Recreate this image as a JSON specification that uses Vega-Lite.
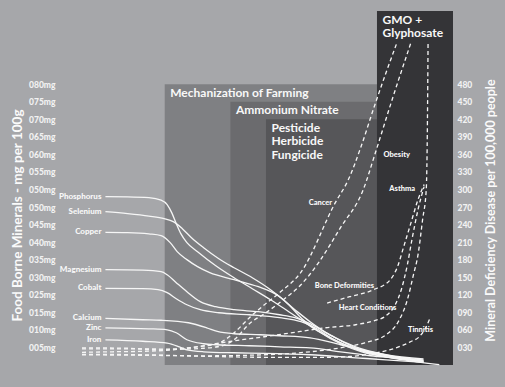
{
  "$schema": "https://vega.github.io/schema/vega-lite/v6.json",
  "width": 371,
  "height": 354,
  "autosize": {"type": "none"},
  "padding": {"left": 82, "top": 11, "right": 52, "bottom": 22},
  "background": "#a6a7aa",
  "config": {
    "view": {"stroke": null},
    "font": "Lato",
    "axis": {
      "domain": false, "ticks": false, "grid": false,
      "labelFont": "Lato", "labelFontWeight": 900, "labelFontSize": 8.5, "labelColor": "#f2f2f2",
      "titleFont": "Lato", "titleFontWeight": "bold", "titleColor": "#fafafa"
    }
  },
  "datasets": {
    "bands": [
      {"band": "Mechanization of Farming", "start": 1927.2, "end": 2022, "top": 480},
      {"band": "Ammonium Nitrate", "start": 1948.8, "end": 2022, "top": 450},
      {"band": "Pesticide\nHerbicide\nFungicide", "start": 1960.5, "end": 2022, "top": 420},
      {"band": "GMO +\nGlyphosate", "start": 1997, "end": 2022, "top": 605}
    ],
    "minerals": [
      {"m": "Phosphorus", "year": 1907.7, "v": 287.8}, {"m": "Phosphorus", "year": 1915, "v": 287.5}, {"m": "Phosphorus", "year": 1922, "v": 286.1}, {"m": "Phosphorus", "year": 1926, "v": 281.8}, {"m": "Phosphorus", "year": 1928, "v": 274.1}, {"m": "Phosphorus", "year": 1929.5, "v": 260.4}, {"m": "Phosphorus", "year": 1931, "v": 241.6}, {"m": "Phosphorus", "year": 1932.5, "v": 224.5}, {"m": "Phosphorus", "year": 1934.5, "v": 209.1}, {"m": "Phosphorus", "year": 1938, "v": 193.7}, {"m": "Phosphorus", "year": 1944, "v": 169.7}, {"m": "Phosphorus", "year": 1950, "v": 149.2}, {"m": "Phosphorus", "year": 1956, "v": 130.4}, {"m": "Phosphorus", "year": 1962, "v": 111.6}, {"m": "Phosphorus", "year": 1968, "v": 91.1}, {"m": "Phosphorus", "year": 1972, "v": 77.3}, {"m": "Phosphorus", "year": 1978, "v": 56.8}, {"m": "Phosphorus", "year": 1985, "v": 38.0}, {"m": "Phosphorus", "year": 1992, "v": 24.3}, {"m": "Phosphorus", "year": 2000, "v": 14.0}, {"m": "Phosphorus", "year": 2010, "v": 5.5}, {"m": "Phosphorus", "year": 2017.5, "v": 0.5},
      {"m": "Selenium", "year": 1907.7, "v": 262.1}, {"m": "Selenium", "year": 1915, "v": 258.7}, {"m": "Selenium", "year": 1922, "v": 254.4}, {"m": "Selenium", "year": 1927, "v": 250.1}, {"m": "Selenium", "year": 1930, "v": 245.0}, {"m": "Selenium", "year": 1933, "v": 233.0}, {"m": "Selenium", "year": 1936, "v": 217.6}, {"m": "Selenium", "year": 1940, "v": 200.5}, {"m": "Selenium", "year": 1945, "v": 181.7}, {"m": "Selenium", "year": 1950, "v": 166.3}, {"m": "Selenium", "year": 1956, "v": 149.2}, {"m": "Selenium", "year": 1962, "v": 128.7}, {"m": "Selenium", "year": 1968, "v": 103.0}, {"m": "Selenium", "year": 1972, "v": 80.8}, {"m": "Selenium", "year": 1978, "v": 56.8}, {"m": "Selenium", "year": 1985, "v": 36.3}, {"m": "Selenium", "year": 1992, "v": 22.6}, {"m": "Selenium", "year": 2000, "v": 14.0}, {"m": "Selenium", "year": 2012.3, "v": 7.2},
      {"m": "Copper", "year": 1907.7, "v": 226.7}, {"m": "Copper", "year": 1915, "v": 226.2}, {"m": "Copper", "year": 1922, "v": 224.0}, {"m": "Copper", "year": 1926, "v": 221.1}, {"m": "Copper", "year": 1929, "v": 209.1}, {"m": "Copper", "year": 1931.3, "v": 193.7}, {"m": "Copper", "year": 1934.5, "v": 180.1}, {"m": "Copper", "year": 1938, "v": 168.1}, {"m": "Copper", "year": 1942, "v": 157.8}, {"m": "Copper", "year": 1950, "v": 145.9}, {"m": "Copper", "year": 1958, "v": 133.8}, {"m": "Copper", "year": 1964, "v": 120.2}, {"m": "Copper", "year": 1970, "v": 94.5}, {"m": "Copper", "year": 1975, "v": 74.0}, {"m": "Copper", "year": 1982, "v": 50.1}, {"m": "Copper", "year": 1990, "v": 31.1}, {"m": "Copper", "year": 2000, "v": 17.5}, {"m": "Copper", "year": 2012.3, "v": 10.6},
      {"m": "Magnesium", "year": 1907.7, "v": 162.9}, {"m": "Magnesium", "year": 1920, "v": 162.0}, {"m": "Magnesium", "year": 1926, "v": 159.5}, {"m": "Magnesium", "year": 1928, "v": 154.3}, {"m": "Magnesium", "year": 1931, "v": 140.7}, {"m": "Magnesium", "year": 1934.5, "v": 125.3}, {"m": "Magnesium", "year": 1938.9, "v": 108.2}, {"m": "Magnesium", "year": 1944, "v": 99.6}, {"m": "Magnesium", "year": 1950, "v": 94.5}, {"m": "Magnesium", "year": 1958, "v": 91.1}, {"m": "Magnesium", "year": 1965, "v": 85.9}, {"m": "Magnesium", "year": 1970, "v": 80.8}, {"m": "Magnesium", "year": 1975, "v": 70.6}, {"m": "Magnesium", "year": 1982, "v": 50.1}, {"m": "Magnesium", "year": 1990, "v": 29.5}, {"m": "Magnesium", "year": 2000, "v": 15.9}, {"m": "Magnesium", "year": 2012.3, "v": 8.9},
      {"m": "Cobalt", "year": 1907.7, "v": 130.9}, {"m": "Cobalt", "year": 1920, "v": 130.4}, {"m": "Cobalt", "year": 1925, "v": 128.7}, {"m": "Cobalt", "year": 1928, "v": 123.6}, {"m": "Cobalt", "year": 1931, "v": 113.3}, {"m": "Cobalt", "year": 1934.5, "v": 103.0}, {"m": "Cobalt", "year": 1938.9, "v": 94.5}, {"m": "Cobalt", "year": 1945, "v": 89.3}, {"m": "Cobalt", "year": 1955, "v": 85.9}, {"m": "Cobalt", "year": 1965, "v": 80.8}, {"m": "Cobalt", "year": 1972, "v": 74.0}, {"m": "Cobalt", "year": 1976, "v": 65.4}, {"m": "Cobalt", "year": 1983, "v": 43.1}, {"m": "Cobalt", "year": 1990, "v": 27.7}, {"m": "Cobalt", "year": 2000, "v": 15.9}, {"m": "Cobalt", "year": 2012.3, "v": 7.2},
      {"m": "Calcium", "year": 1907.7, "v": 79.6}, {"m": "Calcium", "year": 1920, "v": 77.3}, {"m": "Calcium", "year": 1926, "v": 76.5}, {"m": "Calcium", "year": 1935, "v": 72.2}, {"m": "Calcium", "year": 1941, "v": 63.6}, {"m": "Calcium", "year": 1944.5, "v": 57.3}, {"m": "Calcium", "year": 1950, "v": 53.4}, {"m": "Calcium", "year": 1958.7, "v": 51.7}, {"m": "Calcium", "year": 1965, "v": 50.0}, {"m": "Calcium", "year": 1975, "v": 46.5}, {"m": "Calcium", "year": 1985, "v": 34.6}, {"m": "Calcium", "year": 1995, "v": 22.6}, {"m": "Calcium", "year": 2005, "v": 12.3}, {"m": "Calcium", "year": 2012.3, "v": 5.5},
      {"m": "Zinc", "year": 1907.7, "v": 63.6}, {"m": "Zinc", "year": 1922, "v": 61.9}, {"m": "Zinc", "year": 1928, "v": 60.2}, {"m": "Zinc", "year": 1931, "v": 55.1}, {"m": "Zinc", "year": 1934.5, "v": 43.1}, {"m": "Zinc", "year": 1940, "v": 36.3}, {"m": "Zinc", "year": 1944.5, "v": 34.6}, {"m": "Zinc", "year": 1955, "v": 32.9}, {"m": "Zinc", "year": 1965, "v": 31.1}, {"m": "Zinc", "year": 1975, "v": 29.4}, {"m": "Zinc", "year": 1985, "v": 22.6}, {"m": "Zinc", "year": 1995, "v": 15.8}, {"m": "Zinc", "year": 2005, "v": 10.6}, {"m": "Zinc", "year": 2012.3, "v": 5.5},
      {"m": "Iron", "year": 1907.7, "v": 43.1}, {"m": "Iron", "year": 1920, "v": 40.6}, {"m": "Iron", "year": 1928, "v": 37.5}, {"m": "Iron", "year": 1932, "v": 31.1}, {"m": "Iron", "year": 1934.5, "v": 26.0}, {"m": "Iron", "year": 1940, "v": 22.6}, {"m": "Iron", "year": 1950, "v": 20.9}, {"m": "Iron", "year": 1960, "v": 20.0}, {"m": "Iron", "year": 1975, "v": 17.5}, {"m": "Iron", "year": 1990, "v": 12.3}, {"m": "Iron", "year": 2000, "v": 8.9}, {"m": "Iron", "year": 2012.3, "v": 4.6}
    ],
    "diseases": [
      {"d": "Cancer", "year": 1900, "v": 21.7}, {"d": "Cancer", "year": 1910, "v": 22.6}, {"d": "Cancer", "year": 1920, "v": 23.4}, {"d": "Cancer", "year": 1930, "v": 26.0}, {"d": "Cancer", "year": 1938, "v": 31.1}, {"d": "Cancer", "year": 1944.5, "v": 36.3}, {"d": "Cancer", "year": 1950, "v": 55.1}, {"d": "Cancer", "year": 1955.4, "v": 82.5}, {"d": "Cancer", "year": 1960, "v": 103.0}, {"d": "Cancer", "year": 1965.2, "v": 124.6}, {"d": "Cancer", "year": 1971.8, "v": 157.1}, {"d": "Cancer", "year": 1983.3, "v": 277.5}, {"d": "Cancer", "year": 1987.6, "v": 316.9}, {"d": "Cancer", "year": 1992, "v": 376.8}, {"d": "Cancer", "year": 1996, "v": 440}, {"d": "Cancer", "year": 2000, "v": 500}, {"d": "Cancer", "year": 2003.6, "v": 551.3},
      {"d": "Obesity", "year": 1900, "v": 27.7}, {"d": "Obesity", "year": 1910, "v": 27.7}, {"d": "Obesity", "year": 1920, "v": 27.7}, {"d": "Obesity", "year": 1930, "v": 26.9}, {"d": "Obesity", "year": 1940, "v": 28.6}, {"d": "Obesity", "year": 1946, "v": 32.9}, {"d": "Obesity", "year": 1950, "v": 43.1}, {"d": "Obesity", "year": 1955.4, "v": 72.2}, {"d": "Obesity", "year": 1960, "v": 87.6}, {"d": "Obesity", "year": 1966.2, "v": 111.6}, {"d": "Obesity", "year": 1972, "v": 137.2}, {"d": "Obesity", "year": 1978, "v": 176.5}, {"d": "Obesity", "year": 1985, "v": 234.8}, {"d": "Obesity", "year": 1992.5, "v": 299.8}, {"d": "Obesity", "year": 1996.5, "v": 363.1}, {"d": "Obesity", "year": 2002, "v": 453.8}, {"d": "Obesity", "year": 2008.2, "v": 551.3},
      {"d": "Heart Conditions", "year": 1900, "v": 29.4}, {"d": "Heart Conditions", "year": 1915, "v": 28.6}, {"d": "Heart Conditions", "year": 1925, "v": 26.0}, {"d": "Heart Conditions", "year": 1935, "v": 29.4}, {"d": "Heart Conditions", "year": 1950, "v": 41.4}, {"d": "Heart Conditions", "year": 1960, "v": 48.3}, {"d": "Heart Conditions", "year": 1971.8, "v": 57.3}, {"d": "Heart Conditions", "year": 1980, "v": 63.6}, {"d": "Heart Conditions", "year": 1990, "v": 68.8}, {"d": "Heart Conditions", "year": 1996, "v": 75.6}, {"d": "Heart Conditions", "year": 2000, "v": 84.2}, {"d": "Heart Conditions", "year": 2003, "v": 103.0}, {"d": "Heart Conditions", "year": 2005, "v": 128.7}, {"d": "Heart Conditions", "year": 2007, "v": 171.5}, {"d": "Heart Conditions", "year": 2008.5, "v": 214.3}, {"d": "Heart Conditions", "year": 2010.5, "v": 265.6}, {"d": "Heart Conditions", "year": 2012.5, "v": 304.9},
      {"d": "Bone Deformities", "year": 1980.6, "v": 105.9}, {"d": "Bone Deformities", "year": 1988, "v": 116.7}, {"d": "Bone Deformities", "year": 1995.9, "v": 128.7}, {"d": "Bone Deformities", "year": 2001.4, "v": 145.8}, {"d": "Bone Deformities", "year": 2004, "v": 171.5}, {"d": "Bone Deformities", "year": 2005.5, "v": 197.1}, {"d": "Bone Deformities", "year": 2008, "v": 239.9}, {"d": "Bone Deformities", "year": 2010.5, "v": 282.7}, {"d": "Bone Deformities", "year": 2012.5, "v": 308.3},
      {"d": "Asthma", "year": 1900, "v": 17.5}, {"d": "Asthma", "year": 1920, "v": 16.6}, {"d": "Asthma", "year": 1940, "v": 15.7}, {"d": "Asthma", "year": 1960, "v": 17.5}, {"d": "Asthma", "year": 1975, "v": 22.6}, {"d": "Asthma", "year": 1985, "v": 29.4}, {"d": "Asthma", "year": 1993, "v": 38.0}, {"d": "Asthma", "year": 2000, "v": 51.7}, {"d": "Asthma", "year": 2004, "v": 73.9}, {"d": "Asthma", "year": 2007, "v": 111.6}, {"d": "Asthma", "year": 2009, "v": 154.3}, {"d": "Asthma", "year": 2010.5, "v": 188.5}, {"d": "Asthma", "year": 2012, "v": 248.4}, {"d": "Asthma", "year": 2013.2, "v": 299.7}, {"d": "Asthma", "year": 2013.6, "v": 419.5}, {"d": "Asthma", "year": 2013.8, "v": 551.3},
      {"d": "Tinnitis", "year": 1900, "v": 18.3}, {"d": "Tinnitis", "year": 1920, "v": 17.5}, {"d": "Tinnitis", "year": 1940, "v": 14.9}, {"d": "Tinnitis", "year": 1960, "v": 13.2}, {"d": "Tinnitis", "year": 1980, "v": 13.2}, {"d": "Tinnitis", "year": 1988.3, "v": 14.5}, {"d": "Tinnitis", "year": 1995, "v": 19.2}, {"d": "Tinnitis", "year": 2003, "v": 28.9}, {"d": "Tinnitis", "year": 2008, "v": 39.7}, {"d": "Tinnitis", "year": 2011, "v": 48.8}, {"d": "Tinnitis", "year": 2013, "v": 63.6}, {"d": "Tinnitis", "year": 2014.5, "v": 80.8}
    ],
    "diseaseLabels": [
      {"d": "Cancer", "year": 1978.4, "v": 277.5},
      {"d": "Obesity", "year": 2003.5, "v": 359.7},
      {"d": "Asthma", "year": 2005.3, "v": 301.0},
      {"d": "Bone Deformities", "year": 1986.3, "v": 135.5},
      {"d": "Heart Conditions", "year": 1993.9, "v": 97.4},
      {"d": "Tinnitis", "year": 2011.3, "v": 59.7}
    ]
  },
  "resolve": {"axis": {"y": "independent"}},
  "layer": [
    {
      "data": {"name": "bands"},
      "mark": {"type": "rect"},
      "encoding": {
        "x": {"field": "start", "type": "quantitative", "scale": {"domain": [1900, 2022], "nice": false, "zero": false},
              "axis": {"values": [1900, 1910, 1920, 1930, 1940, 1950, 1960, 1970, 1980, 1990, 2000, 2010, 2020], "format": "d", "labelPadding": 6, "title": null}},
        "x2": {"field": "end"},
        "y": {"field": "top", "type": "quantitative", "scale": {"domain": [0, 605], "nice": false},
              "axis": {"orient": "left", "values": [30, 60, 90, 120, 150, 180, 210, 240, 270, 300, 330, 360, 390, 420, 450, 480],
                       "labelExpr": "['005mg','010mg','015mg','025mg','030mg','035mg','040mg','045mg','050mg','050mg','055mg','060mg','065mg','070mg','075mg','080mg'][round(datum.value/30)-1]",
                       "labelPadding": 27, "title": "Food Borne Minerals - mg per 100g", "titleFontSize": 13.5,
                       "titleAngle": 270, "titleX": -65, "titleY": 204, "titleAlign": "center", "titleBaseline": "middle"}},
        "y2": {"datum": 0},
        "color": {"field": "band", "type": "nominal", "legend": null,
                  "scale": {"domain": ["Mechanization of Farming", "Ammonium Nitrate", "Pesticide\nHerbicide\nFungicide", "GMO +\nGlyphosate"],
                            "range": ["#7f8083", "#6b6b6e", "#565659", "#343437"]}}
      }
    },
    {
      "data": {"name": "bands"},
      "mark": {"type": "text", "align": "left", "baseline": "top", "dx": 5.5, "dy": 3.5, "lineBreak": "\n", "lineHeight": 13.5, "font": "Lato", "fontWeight": "bold", "fontSize": 12, "fill": "#f8f8f8"},
      "encoding": {
        "x": {"field": "start", "type": "quantitative", "axis": null},
        "y": {"field": "top", "type": "quantitative", "axis": null},
        "text": {"field": "band"}
      }
    },
    {
      "data": {"name": "minerals"},
      "mark": {"type": "line", "interpolate": "monotone", "stroke": "#f6f6f6", "strokeWidth": 1.3},
      "encoding": {
        "x": {"field": "year", "type": "quantitative", "axis": null},
        "y": {"field": "v", "type": "quantitative", "axis": null},
        "detail": {"field": "m"}
      }
    },
    {
      "data": {"name": "diseases"},
      "mark": {"type": "line", "interpolate": "monotone", "stroke": "#f6f6f6", "strokeWidth": 1.3, "strokeDash": [4, 3]},
      "encoding": {
        "x": {"field": "year", "type": "quantitative", "axis": null},
        "y": {"field": "v", "type": "quantitative",
              "axis": {"orient": "right", "values": [30, 60, 90, 120, 150, 180, 210, 240, 270, 300, 330, 360, 390, 420, 450, 480], "format": "03d",
                       "labelPadding": 4, "title": "Mineral Deficiency Disease per 100,000 people", "titleFontSize": 12.5,
                       "titleAngle": 270, "titleX": 37, "titleY": 199, "titleAlign": "center", "titleBaseline": "middle"}},
        "detail": {"field": "d"}
      }
    },
    {
      "data": {"name": "minerals"},
      "transform": [{"filter": "datum.year < 1908"}],
      "mark": {"type": "text", "align": "right", "baseline": "middle", "dx": -4, "font": "Lato", "fontWeight": 900, "fontSize": 8, "fill": "#f8f8f8"},
      "encoding": {
        "x": {"field": "year", "type": "quantitative", "axis": null},
        "y": {"field": "v", "type": "quantitative", "axis": null},
        "text": {"field": "m"}
      }
    },
    {
      "data": {"name": "diseaseLabels"},
      "mark": {"type": "text", "align": "center", "baseline": "middle", "font": "Lato", "fontWeight": 900, "fontSize": 7.5, "fill": "#f8f8f8"},
      "encoding": {
        "x": {"field": "year", "type": "quantitative", "axis": null},
        "y": {"field": "v", "type": "quantitative", "axis": null},
        "text": {"field": "d"}
      }
    }
  ]
}
